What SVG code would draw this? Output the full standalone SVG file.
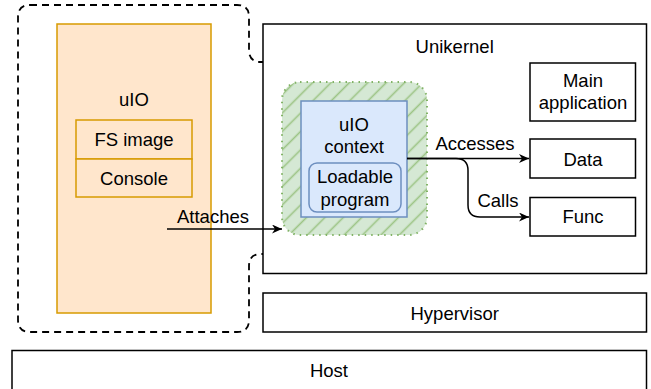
<svg xmlns="http://www.w3.org/2000/svg" width="651" height="389" viewBox="0 0 651 389">
<style>
text{font-family:"Liberation Sans",Arial,sans-serif;font-size:18.5px;fill:#000;text-anchor:middle}
.box{fill:#fff;stroke:#000;stroke-width:1.5}
.orange{fill:#ffe6cc;stroke:#d79b00;stroke-width:1.5}
.blue{fill:#dae8fc;stroke:#6c8ebf;stroke-width:1.5}
.conn{fill:none;stroke:#000;stroke-width:1.5}
</style>
<defs>
<marker id="arr" markerUnits="userSpaceOnUse" markerWidth="12" markerHeight="10" refX="10" refY="4.5" orient="auto">
<path d="M0,0 L10,4.5 L0,9 L3,4.5 Z" fill="#000"/>
</marker>
<pattern id="hatch" patternUnits="userSpaceOnUse" width="13" height="13" patternTransform="rotate(45)">
<rect width="13" height="13" fill="#d5e8d4"/>
<line x1="6.5" y1="0" x2="6.5" y2="13" stroke="#9cc485" stroke-width="1.6"/>
</pattern>
</defs>

<g id="group-dashed">
<path d="M30,5 L237,5 Q249,5 249,17 L249,50 Q249,62 261,62 L430,62 Q442,62 442,74 L442,242 Q442,254 430,254 L261,254 Q249,254 249,266 L249,320 Q249,332 237,332 L30,332 Q18,332 18,320 L18,17 Q18,5 30,5 Z" fill="none" stroke="#000" stroke-width="1.8" stroke-dasharray="7 5"/>
</g>

<g id="host">
<rect class="box" x="12" y="350.5" width="634.5" height="40"/>
<text x="329" y="376.5">Host</text>
</g>

<g id="hypervisor">
<rect class="box" x="263" y="293" width="383.5" height="39"/>
<text x="454.7" y="320">Hypervisor</text>
</g>

<g id="unikernel">
<rect class="box" x="263" y="24" width="383.5" height="249.5"/>
<text x="454.7" y="53.3">Unikernel</text>
</g>

<g id="uio">
<rect class="orange" x="57" y="24" width="154" height="289"/>
<text x="134" y="106">uIO</text>
</g>

<g id="fs-image">
<rect class="orange" x="76" y="120" width="116" height="39"/>
<text x="134" y="145.5">FS image</text>
</g>

<g id="console">
<rect class="orange" x="76" y="159" width="116" height="38"/>
<text x="134" y="185">Console</text>
</g>

<g id="sandbox">
<rect x="282" y="82" width="145" height="153" rx="18" ry="18" fill="url(#hatch)" stroke="#82b366" stroke-width="2" stroke-dasharray="1.5 5"/>
</g>

<g id="uio-context">
<rect class="blue" x="301" y="101" width="106" height="116"/>
<text x="354" y="130.7">uIO</text>
<text x="354" y="153">context</text>
</g>

<g id="loadable-program">
<rect class="blue" x="309" y="163" width="92" height="49" rx="8" ry="8"/>
<text x="355" y="182.7">Loadable</text>
<text x="355" y="205.5">program</text>
</g>

<g id="main-application">
<rect class="box" x="530" y="63" width="105.5" height="58"/>
<text x="583" y="86.7">Main</text>
<text x="583" y="109">application</text>
</g>

<g id="data">
<rect class="box" x="530" y="139" width="105.5" height="39"/>
<text x="583" y="166">Data</text>
</g>

<g id="func">
<rect class="box" x="530" y="197.5" width="105.5" height="38.5"/>
<text x="583" y="222.7">Func</text>
</g>

<g id="connectors">
<path class="conn" d="M167,229 L282,229" marker-end="url(#arr)"/>
<text x="213" y="222.5">Attaches</text>
<path class="conn" d="M407,158.5 L529,158.5" marker-end="url(#arr)"/>
<text x="475" y="150">Accesses</text>
<path class="conn" d="M407,158.5 L456,158.5 Q468,158.5 468,170.5 L468,205 Q468,217 480,217 L529,217" marker-end="url(#arr)"/>
<text x="498" y="207.3">Calls</text>
</g>
</svg>
